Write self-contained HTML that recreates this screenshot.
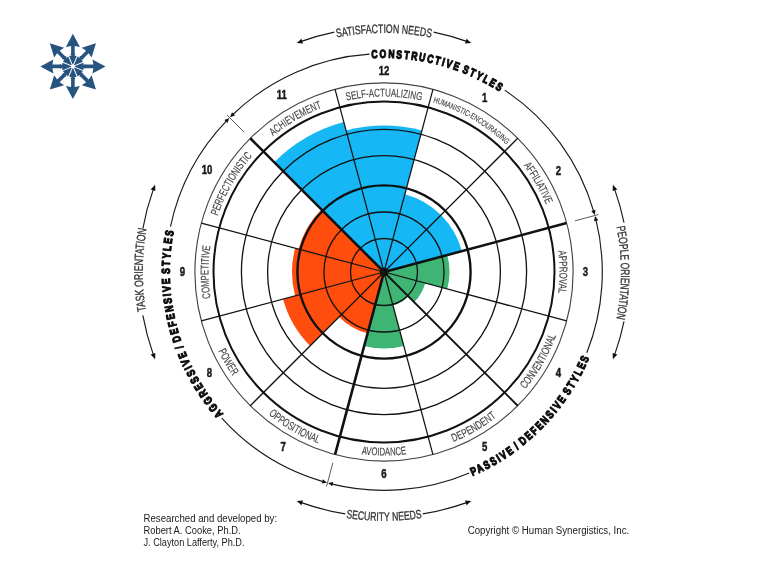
<!DOCTYPE html>
<html lang="en"><head><meta charset="utf-8"><title>Circumplex</title>
<style>html,body{margin:0;padding:0;background:#fff}body{width:768px;height:576px;overflow:hidden;position:relative;font-family:"Liberation Sans",Arial,sans-serif}svg{position:absolute;left:0;top:0;display:block}text{font-family:"Liberation Sans",Arial,sans-serif}
.lab{font-size:11.3px;fill:#444;stroke:#444;stroke-width:.15px}.out{font-size:12.2px;fill:#333;stroke:#333;stroke-width:.32px}.sty{font-size:11.5px;font-weight:bold;fill:#0d0d0d;stroke:#0d0d0d;stroke-width:1.15px;stroke-linejoin:round;letter-spacing:2.4px;word-spacing:-2.5px}.num{font-size:12px;font-weight:bold;fill:#1a1a1a;stroke:#1a1a1a;stroke-width:.5px;text-anchor:middle}.ft{font-size:10px;fill:#1a1a1a}
</style></head><body>
<svg width="768" height="576" viewBox="0 0 768 576">
<rect width="768" height="576" fill="#fff"/>
<g stroke="none">
<path d="M384 272L274.26 162.26A155.2 155.2 0 0 1 343.83 122.09Z" fill="#15b7f5"/>
<path d="M384 272L346.08 130.49A146.5 146.5 0 0 1 421.92 130.49Z" fill="#15b7f5"/>
<path d="M384 272L404.86 194.15A80.6 80.6 0 0 1 440.99 215.01Z" fill="#15b7f5"/>
<path d="M384 272L440.99 215.01A80.6 80.6 0 0 1 461.85 251.14Z" fill="#15b7f5"/>
<path d="M384 272L447.27 255.05A65.5 65.5 0 0 1 447.27 288.95Z" fill="#3fb574"/>
<path d="M384 272L425.25 283.05A42.7 42.7 0 0 1 414.19 302.19Z" fill="#3fb574"/>
<path d="M384 272L408.4 296.4A34.5 34.5 0 0 1 392.93 305.32Z" fill="#3fb574"/>
<path d="M384 272L403.8 345.89A76.5 76.5 0 0 1 364.2 345.89Z" fill="#3fb574"/>
<path d="M384 272L367.56 333.34A63.5 63.5 0 0 1 339.1 316.9Z" fill="#fe4d0d"/>
<path d="M384 272L310.11 345.89A104.5 104.5 0 0 1 283.06 299.05Z" fill="#fe4d0d"/>
<path d="M384 272L295.13 295.81A92 92 0 0 1 295.13 248.19Z" fill="#fe4d0d"/>
<path d="M384 272L298.52 249.09A88.5 88.5 0 0 1 321.42 209.42Z" fill="#fe4d0d"/>
</g>
<g fill="none" stroke="#111">
<circle cx="384" cy="272" r="33.5" stroke-width="1.3" stroke="#111"/>
<circle cx="384" cy="272" r="60" stroke-width="1.3" stroke="#111"/>
<circle cx="384" cy="272" r="86.6" stroke-width="2.4" stroke="#111"/>
<circle cx="384" cy="272" r="116.4" stroke-width="1.3" stroke="#111"/>
<circle cx="384" cy="272" r="142.6" stroke-width="1.3" stroke="#111"/>
<circle cx="384" cy="272" r="170.5" stroke-width="2.0" stroke="#111"/>
<circle cx="384" cy="272" r="189.1" stroke-width="1.15" stroke="#444"/>
</g>
<g stroke="#111" stroke-linecap="butt">
<line x1="384" y1="272" x2="432.94" y2="89.34" stroke-width="1.25"/>
<line x1="384" y1="272" x2="517.71" y2="138.29" stroke-width="1.25"/>
<line x1="384" y1="272" x2="566.66" y2="223.06" stroke-width="2.6"/>
<line x1="384" y1="272" x2="566.66" y2="320.94" stroke-width="1.25"/>
<line x1="384" y1="272" x2="517.71" y2="405.71" stroke-width="1.9"/>
<line x1="384" y1="272" x2="432.94" y2="454.66" stroke-width="1.25"/>
<line x1="384" y1="272" x2="335.06" y2="454.66" stroke-width="2.6"/>
<line x1="384" y1="272" x2="250.29" y2="405.71" stroke-width="1.25"/>
<line x1="384" y1="272" x2="201.34" y2="320.94" stroke-width="1.25"/>
<line x1="384" y1="272" x2="201.34" y2="223.06" stroke-width="1.25"/>
<line x1="384" y1="272" x2="250.29" y2="138.29" stroke-width="2.6"/>
<line x1="384" y1="272" x2="335.06" y2="89.34" stroke-width="1.25"/>
</g>
<circle cx="384" cy="272" r="4.3" fill="#111"/>
<defs><path id="p1" d="M323.03 107.48A175.45 175.45 0 0 1 444.97 107.48"/><path id="p2" d="M408.92 97.2A176.56 176.56 0 0 1 522.92 163.02"/><path id="p3" d="M507.19 147.06A175.45 175.45 0 0 1 553.79 227.79"/><path id="p4" d="M553.52 226.76A175.45 175.45 0 0 1 553.52 317.24"/><path id="p5" d="M507.48 407.8A183.55 183.55 0 0 0 563.35 311.04"/><path id="p6" d="M429.07 449.93A183.55 183.55 0 0 0 515.55 399.99"/><path id="p7" d="M336.38 449.26A183.55 183.55 0 0 0 431.62 449.26"/><path id="p8" d="M249.74 397.15A183.55 183.55 0 0 0 342.75 450.85"/><path id="p9" d="M208.95 327.2A183.55 183.55 0 0 0 248.67 395.99"/><path id="p10" d="M215.82 322A175.45 175.45 0 0 1 215.82 222"/><path id="p11" d="M211.56 239.61A175.45 175.45 0 0 1 269.73 138.86"/><path id="p12" d="M255.16 152.9A175.45 175.45 0 0 1 345.27 100.87"/><path id="p13" d="M304.57 46.44A239.13 239.13 0 0 1 463.43 46.44"/><path id="p14" d="M608.02 194.86A236.93 236.93 0 0 1 607.48 350.7"/><path id="p15" d="M312.07 510.25A248.87 248.87 0 0 0 455.93 510.25"/><path id="p16" d="M153.68 343.74A241.23 241.23 0 0 1 154.97 196.25"/><path id="p17" d="M342.03 61.97A214.18 214.18 0 0 1 524.8 110.6"/><path id="p18" d="M443.25 486.38A222.42 222.42 0 0 0 599.57 326.75"/><path id="p19" d="M244.9 434.87A214.18 214.18 0 0 1 182.1 200.5"/></defs>
<g style="filter:grayscale(1)">
<text class="lab" ><textPath href="#p1" startOffset="50%" text-anchor="middle" textLength="75.53" lengthAdjust="spacingAndGlyphs">SELF-ACTUALIZING</textPath></text>
<text class="lab" style="font-size:8.2px"><textPath href="#p2" startOffset="50%" text-anchor="middle" textLength="85.58" lengthAdjust="spacingAndGlyphs">HUMANISTIC-ENCOURAGING</textPath></text>
<text class="lab" ><textPath href="#p3" startOffset="50%" text-anchor="middle" textLength="45.35" lengthAdjust="spacingAndGlyphs">AFFILIATIVE</textPath></text>
<text class="lab" ><textPath href="#p4" startOffset="50%" text-anchor="middle" textLength="42.52" lengthAdjust="spacingAndGlyphs">APPROVAL</textPath></text>
<text class="lab" ><textPath href="#p5" startOffset="50%" text-anchor="middle" textLength="62.27" lengthAdjust="spacingAndGlyphs">CONVENTIONAL</textPath></text>
<text class="lab" ><textPath href="#p6" startOffset="50%" text-anchor="middle" textLength="49.89" lengthAdjust="spacingAndGlyphs">DEPENDENT</textPath></text>
<text class="lab" ><textPath href="#p7" startOffset="50%" text-anchor="middle" textLength="45.09" lengthAdjust="spacingAndGlyphs">AVOIDANCE</textPath></text>
<text class="lab" ><textPath href="#p8" startOffset="50%" text-anchor="middle" textLength="57.73" lengthAdjust="spacingAndGlyphs">OPPOSITIONAL</textPath></text>
<text class="lab" ><textPath href="#p9" startOffset="50%" text-anchor="middle" textLength="28.81" lengthAdjust="spacingAndGlyphs">POWER</textPath></text>
<text class="lab" ><textPath href="#p10" startOffset="50%" text-anchor="middle" textLength="52.41" lengthAdjust="spacingAndGlyphs">COMPETITIVE</textPath></text>
<text class="lab" ><textPath href="#p11" startOffset="50%" text-anchor="middle" textLength="69.59" lengthAdjust="spacingAndGlyphs">PERFECTIONISTIC</textPath></text>
<text class="lab" ><textPath href="#p12" startOffset="50%" text-anchor="middle" textLength="56.65" lengthAdjust="spacingAndGlyphs">ACHIEVEMENT</textPath></text>
<text class="out" ><textPath href="#p13" startOffset="50%" text-anchor="middle" textLength="95.16" lengthAdjust="spacingAndGlyphs">SATISFACTION NEEDS</textPath></text>
<text class="out" ><textPath href="#p14" startOffset="50%" text-anchor="middle" textLength="92.63" lengthAdjust="spacingAndGlyphs">PEOPLE ORIENTATION</textPath></text>
<text class="out" ><textPath href="#p15" startOffset="50%" text-anchor="middle" textLength="76.45" lengthAdjust="spacingAndGlyphs">SECURITY NEEDS</textPath></text>
<text class="out" ><textPath href="#p16" startOffset="50%" text-anchor="middle" textLength="82.52" lengthAdjust="spacingAndGlyphs">TASK ORIENTATION</textPath></text>
<text class="sty" ><textPath href="#p17" startOffset="50%" text-anchor="middle" textLength="136.07" lengthAdjust="spacingAndGlyphs">CONSTRUCTIVE STYLES</textPath></text>
<text class="sty" ><textPath href="#p18" startOffset="50%" text-anchor="middle" textLength="171.97" lengthAdjust="spacingAndGlyphs">PASSIVE / DEFENSIVE STYLES</textPath></text>
<text class="sty" ><textPath href="#p19" startOffset="50%" text-anchor="middle" textLength="198.12" lengthAdjust="spacingAndGlyphs">AGGRESSIVE / DEFENSIVE STYLES</textPath></text>
<text class="num" transform="translate(484.75 101.7) scale(.8 1)">1</text>
<text class="num" transform="translate(558.5 175.45) scale(.8 1)">2</text>
<text class="num" transform="translate(585.5 276.2) scale(.8 1)">3</text>
<text class="num" transform="translate(558.5 376.95) scale(.8 1)">4</text>
<text class="num" transform="translate(484.75 450.7) scale(.8 1)">5</text>
<text class="num" transform="translate(384 477.7) scale(.8 1)">6</text>
<text class="num" transform="translate(283.25 450.7) scale(.8 1)">7</text>
<text class="num" transform="translate(209.5 376.95) scale(.8 1)">8</text>
<text class="num" transform="translate(182.5 276.2) scale(.8 1)">9</text>
<text class="num" transform="translate(207.07 174.05) scale(.8 1)">10</text>
<text class="num" transform="translate(281.85 99.27) scale(.8 1)">11</text>
<text class="num" transform="translate(384 74.7) scale(.8 1)">12</text>
<g fill="none" stroke="#1a1a1a" stroke-width="1.15">
<path d="M232.36 114.97A218.3 218.3 0 0 1 369.53 54.18"/>
<path d="M504.81 90.17A218.3 218.3 0 0 1 593.84 211.83"/>
<path d="M595.82 219.19A218.3 218.3 0 0 1 586.83 352.72"/>
<path d="M469.3 472.95A218.3 218.3 0 0 1 331.19 483.82"/>
<path d="M323.83 481.84A218.3 218.3 0 0 1 221.77 418.07"/>
<path d="M170.47 226.61A218.3 218.3 0 0 1 226.97 120.36"/>
</g>
<path d="M594.71 214.95L595.52 209.71L591.3 210.95Z" fill="#111"/>
<path d="M595.01 216.05L598.33 220.19L594.05 221.22Z" fill="#111"/>
<line x1="574.87" y1="220.86" x2="598.44" y2="214.54" stroke="#5a5a5a" stroke-width="1"/>
<path d="M328.05 483.01L332.19 486.33L333.22 482.05Z" fill="#111"/>
<path d="M326.95 482.71L321.71 483.52L322.95 479.3Z" fill="#111"/>
<line x1="332.86" y1="462.87" x2="326.54" y2="486.44" stroke="#5a5a5a" stroke-width="1"/>
<path d="M229.24 118.04L224.29 119.97L227.48 123Z" fill="#111"/>
<path d="M230.04 117.24L231.97 112.29L235 115.48Z" fill="#111"/>
<line x1="244.28" y1="132.28" x2="227.02" y2="115.02" stroke="#5a5a5a" stroke-width="1"/>
<path d="M334.32 32.09A245 245 0 0 0 301.41 41.34" fill="none" stroke="#1a1a1a" stroke-width="1.15"/>
<path d="M296.8 43.04L301.41 38.69L303.08 43.4Z" fill="#111"/>
<path d="M433.68 32.09A245 245 0 0 1 466.59 41.34" fill="none" stroke="#1a1a1a" stroke-width="1.15"/>
<path d="M471.2 43.04L466.59 38.69L464.92 43.4Z" fill="#111"/>
<path d="M624 222.74A245 245 0 0 0 614.66 189.41" fill="none" stroke="#1a1a1a" stroke-width="1.15"/>
<path d="M612.96 184.8L617.31 189.41L612.6 191.08Z" fill="#111"/>
<path d="M624 321.26A245 245 0 0 1 614.66 354.59" fill="none" stroke="#1a1a1a" stroke-width="1.15"/>
<path d="M612.96 359.2L617.31 354.59L612.6 352.92Z" fill="#111"/>
<path d="M422.75 513.92A245 245 0 0 0 466.59 502.66" fill="none" stroke="#1a1a1a" stroke-width="1.15"/>
<path d="M471.2 500.96L466.59 505.31L464.92 500.6Z" fill="#111"/>
<path d="M345.25 513.92A245 245 0 0 1 301.41 502.66" fill="none" stroke="#1a1a1a" stroke-width="1.15"/>
<path d="M296.8 500.96L301.41 505.31L303.08 500.6Z" fill="#111"/>
<path d="M142.87 315.39A245 245 0 0 0 153.34 354.59" fill="none" stroke="#1a1a1a" stroke-width="1.15"/>
<path d="M155.04 359.2L150.69 354.59L155.4 352.92Z" fill="#111"/>
<path d="M142.87 228.61A245 245 0 0 1 153.34 189.41" fill="none" stroke="#1a1a1a" stroke-width="1.15"/>
<path d="M155.04 184.8L150.69 189.41L155.4 191.08Z" fill="#111"/>
</g>
<g>
<polygon points="72.9,52.4 77.3,55.78 82.8,56.5 83.52,62 86.9,66.4 83.52,70.8 82.8,76.3 77.3,77.02 72.9,80.4 68.5,77.02 63,76.3 62.28,70.8 58.9,66.4 62.28,62 63,56.5 68.5,55.78" fill="#27537f"/>
<path d="M71.1 66.4L71.1 45.9L65.9 46.9L72.9 33.8L79.9 46.9L74.7 45.9L74.7 66.4Z" fill="#27537f"/>
<path d="M71.63 65.13L86.12 50.63L81.74 47.66L95.95 43.35L91.64 57.56L88.67 53.18L74.17 67.67Z" fill="#27537f"/>
<path d="M72.9 64.6L93.4 64.6L92.4 59.4L105.5 66.4L92.4 73.4L93.4 68.2L72.9 68.2Z" fill="#27537f"/>
<path d="M74.17 65.13L88.67 79.62L91.64 75.24L95.95 89.45L81.74 85.14L86.12 82.17L71.63 67.67Z" fill="#27537f"/>
<path d="M74.7 66.4L74.7 86.9L79.9 85.9L72.9 99L65.9 85.9L71.1 86.9L71.1 66.4Z" fill="#27537f"/>
<path d="M74.17 67.67L59.68 82.17L64.06 85.14L49.85 89.45L54.16 75.24L57.13 79.62L71.63 65.13Z" fill="#27537f"/>
<path d="M72.9 68.2L52.4 68.2L53.4 73.4L40.3 66.4L53.4 59.4L52.4 64.6L72.9 64.6Z" fill="#27537f"/>
<path d="M71.63 67.67L57.13 53.18L54.16 57.56L49.85 43.35L64.06 47.66L59.68 50.63L74.17 65.13Z" fill="#27537f"/>
<path d="M72.44 66.21L76.65 56.05L74.05 55.51L79.21 51.16L79.78 57.89L77.57 56.43L73.36 66.59Z" fill="#fff"/>
<path d="M72.71 65.94L82.87 61.73L81.41 59.52L88.14 60.09L83.79 65.25L83.25 62.65L73.09 66.86Z" fill="#fff"/>
<path d="M73.09 65.94L83.25 70.15L83.79 67.55L88.14 72.71L81.41 73.28L82.87 71.07L72.71 66.86Z" fill="#fff"/>
<path d="M73.36 66.21L77.57 76.37L79.78 74.91L79.21 81.64L74.05 77.29L76.65 76.75L72.44 66.59Z" fill="#fff"/>
<path d="M73.36 66.59L69.15 76.75L71.75 77.29L66.59 81.64L66.02 74.91L68.23 76.37L72.44 66.21Z" fill="#fff"/>
<path d="M73.09 66.86L62.93 71.07L64.39 73.28L57.66 72.71L62.01 67.55L62.55 70.15L72.71 65.94Z" fill="#fff"/>
<path d="M72.71 66.86L62.55 62.65L62.01 65.25L57.66 60.09L64.39 59.52L62.93 61.73L73.09 65.94Z" fill="#fff"/>
<path d="M72.44 66.59L68.23 56.43L66.02 57.89L66.59 51.16L71.75 55.51L69.15 56.05L73.36 66.21Z" fill="#fff"/>
<circle cx="72.9" cy="66.4" r="1.9" fill="#fff"/>
</g>
<g style="filter:grayscale(1)">
<text class="ft" x="143.5" y="522.2" textLength="133.6" lengthAdjust="spacingAndGlyphs">Researched and developed by:</text>
<text class="ft" x="143.5" y="534.3" textLength="97.1" lengthAdjust="spacingAndGlyphs">Robert A. Cooke, Ph.D.</text>
<text class="ft" x="143.5" y="546.4" textLength="101" lengthAdjust="spacingAndGlyphs">J. Clayton Lafferty, Ph.D.</text>
<text class="ft" x="467.7" y="533.6" textLength="161.5" lengthAdjust="spacingAndGlyphs">Copyright © Human Synergistics, Inc.</text>
</g>
</svg>
</body></html>
